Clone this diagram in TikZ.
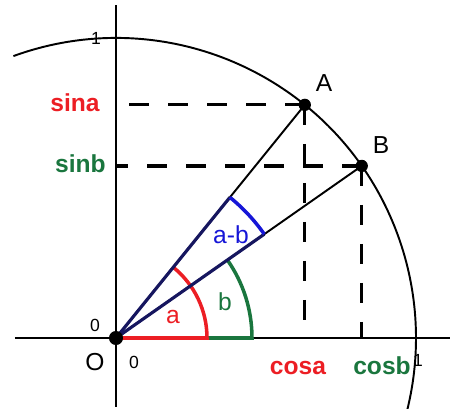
\documentclass[tikz,border=0pt]{standalone}
\usepackage{fontspec}
\setmainfont{Liberation Sans}
\usepackage{xcolor}
\definecolor{sinred}{RGB}{236,30,36}
\definecolor{singreen}{RGB}{26,118,62}
\definecolor{diffblue}{RGB}{22,22,215}
\definecolor{raynavy}{RGB}{22,22,95}
\newcommand{\angA}{51}
\newcommand{\angB}{35}
\newcommand{\rad}{300}

\begin{document}
\begin{tikzpicture}[x=0.02cm,y=0.02cm]
\tikzstyle{every node}=[font=\fontsize{14}{16}\selectfont,inner sep=0pt]
\tikzstyle{dot}=[circle,fill=black,minimum size=7pt]
\tikzstyle{proj}=[line width=1.8pt,dash pattern=on 11.4pt off 10.8pt]
\tikzstyle{tick}=[font=\fontsize{10}{12}\selectfont]
\useasboundingbox (-116,-71) rectangle (334,338);
\coordinate (O) at (0,0);
\coordinate (A) at (\angA:\rad);
\coordinate (B) at (\angB:\rad);
\coordinate (xl) at (-101,0);
\coordinate (xr) at (334,0);
\coordinate (yb) at (0,-69);
\coordinate (yt) at (0,333);
% axes and unit circle
\draw[line width=1.1pt] (xl) -- (xr);
\draw[line width=1.1pt] (yb) -- (yt);
\draw[line width=1.1pt] (110:\rad) arc[start angle=110,end angle=-14,radius=\rad];
% projections
\draw[proj] (A) -- (O |- A);
\draw[proj] (B) -- (O |- B);
\draw[proj] (A) -- (A |- O);
\draw[proj] (B) -- (B |- O);
% rays
\draw[line width=1.1pt] (O) -- (A);
\draw[line width=1.1pt] (O) -- (B);
% angles
\draw[singreen,line width=2pt] (O) -- (136,0) arc[start angle=0,end angle=\angB,radius=136];
\draw[sinred,line width=2pt] (O) -- (91,0) arc[start angle=0,end angle=\angA,radius=91];
\draw[raynavy,line width=1.8pt] (O) -- (\angA:181);
\draw[raynavy,line width=1.8pt] (O) -- (\angB:181);
\draw[diffblue,line width=2pt] (\angB:181) arc[start angle=\angB,end angle=\angA,radius=181];
% points
\node[dot,minimum size=8pt] (Odot) at (O) {};
\node[dot] (Adot) at (A) {};
\node[dot] (Bdot) at (B) {};
% labels
\node (Alab) at (208,255) {A};
\node (Blab) at (265,193) {B};
\node (Olab) at (-21,-24) {O};
\node[tick] (zeroy) at (-21,13) {0};
\node[tick] (zerox) at (18,-24) {0};
\node[tick] (oney) at (-20,300) {1};
\node[tick] (onex) at (302,-22) {1};
\node[sinred] (alab) at (57,21) {a};
\node[singreen] (blab) at (109,36) {b};
\node[diffblue] (ablab) at (115,103) {a-b};
\node[sinred,font=\fontsize{14}{16}\bfseries,anchor=base east] (sina) at (-16,226) {sina};
\node[singreen,font=\fontsize{14}{16}\bfseries,anchor=base east] (sinb) at (-10,165) {sinb};
\node[sinred,font=\fontsize{14}{16}\bfseries,anchor=base] (cosa) at (182,-37) {cosa};
\node[singreen,font=\fontsize{14}{16}\bfseries,anchor=base] (cosb) at (266,-37) {cosb};
\end{tikzpicture}
\end{document}
